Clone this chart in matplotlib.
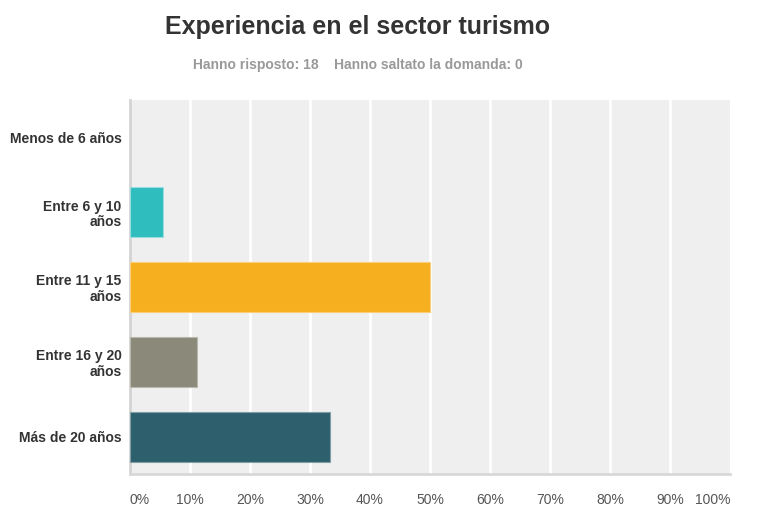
import matplotlib
matplotlib.use('Agg')
import matplotlib.pyplot as plt
import numpy as np

# ─── data ────────────────────────────────────────────────
categories = ['Menos de 6 años', 'Entre 6 y 10\naños', 'Entre 11 y 15\naños',
              'Entre 16 y 20\naños', 'Más de 20 años']
percent = [0.0, 5.56, 50.0, 11.11, 33.33]
colors = ['#2fbdbe', '#2fbdbe', '#f6af1f', '#8b8a7a', '#2e5f6c']
edges = ['#9adedf', '#9adedf', '#f9cf7a', '#b9b8ac', '#7f9ea6']
xticks = list(range(0, 101, 10))
xtick_labels = [f'{v}%' for v in xticks]

plt.rcParams['font.family'] = ['Liberation Sans', 'DejaVu Sans']

fig = plt.figure(figsize=(7.6, 5.31), dpi=100, facecolor='white')
ax = fig.add_axes([130 / 760, 57 / 531, 600 / 760, 374 / 531])
ax.set_facecolor('#efefef')

y = np.arange(len(categories))
lws = [0.8 if p > 0 else 0 for p in percent]
ax.barh(y, percent, height=0.667, color=colors[:len(percent)],
        edgecolor=edges, linewidth=lws, zorder=3)
ax.set_ylim(len(categories) - 0.5, -0.5)
ax.set_xlim(0, 100)

# grid
for v in xticks[1:-1]:
    ax.axvline(v, color='white', lw=2, zorder=1)

ax.set_yticks(y)
ax.set_yticklabels(categories, fontsize=10, fontweight='bold', color='#333333',
                   linespacing=1.15)
ax.tick_params(axis='y', length=0, pad=6)
ax.set_xticks(xticks)
ax.set_xticklabels(xtick_labels, fontsize=10, color='#555555')
ax.tick_params(axis='x', length=0, pad=14)
xl = ax.get_xticklabels()
xl[0].set_ha('left')
xl[-1].set_ha('right')

for s in ['top', 'right']:
    ax.spines[s].set_visible(False)
ax.spines['left'].set_color('#d4d4d4')
ax.spines['left'].set_linewidth(2)
ax.spines['bottom'].set_color('#d8d8d8')
ax.spines['bottom'].set_linewidth(2)

fig.text(358 / 760, 1 - 27 / 531, 'Experiencia en el sector turismo',
         ha='center', va='center', fontsize=18, fontweight='bold', color='#333333')
fig.text(358 / 760, 1 - 65 / 531, 'Hanno risposto: 18    Hanno saltato la domanda: 0',
         ha='center', va='center', fontsize=10, fontweight='bold', color='#999999')

fig.savefig('out.png', dpi=100, facecolor='white')
